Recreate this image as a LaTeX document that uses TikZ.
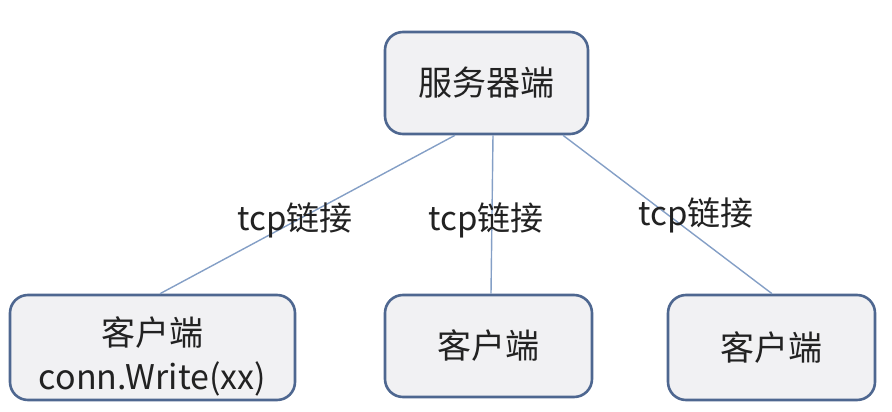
\documentclass[tikz,border=0pt]{standalone}
\usepackage{fontspec}
\setmainfont{Noto Sans CJK SC}
\usepackage{xcolor}
\usetikzlibrary{calc, positioning}

\definecolor{boxline}{HTML}{4E6790}
\definecolor{boxfill}{HTML}{F1F1F3}
\definecolor{linkblue}{HTML}{849FC6}
\definecolor{textdark}{HTML}{222222}

\tikzset{
    boxnode/.style={draw=boxline, line width=2.6pt, fill=boxfill,
        rounded corners=18pt, inner sep=0pt, align=center,
        font=\fontsize{34}{44}\selectfont, text=textdark},
    link/.style={draw=linkblue, line width=1.4pt},
    linklabel/.style={font=\fontsize{33}{40}\selectfont, text=textdark, inner sep=0pt}
}

\begin{document}
\begin{tikzpicture}[x=1pt, y=-1pt]

    % canvas
    \useasboundingbox (0,0) rectangle (892,412);

    % -----------------------------------------------------------------
    % 1. server and clients
    % -----------------------------------------------------------------
    \node[boxnode, minimum width=203pt, minimum height=102pt] (server) at (486.5,83) {服务器端};

    \node[boxnode, minimum width=285pt, minimum height=105pt] (client1) at (152.5,347.5) {};
    \node[font=\fontsize{34}{44}\selectfont, text=textdark, align=center] (client1txt) at (152.5,356) {客户端\\conn.Write(xx)};
    \node[boxnode, minimum width=207pt, minimum height=102pt] (client2) at (488.5,346) {客户端};
    \node[boxnode, minimum width=207pt, minimum height=105pt] (client3) at (771.5,347.5) {客户端};

    % -----------------------------------------------------------------
    % 2. tcp links
    % -----------------------------------------------------------------
    \draw[link] ([xshift=-31.5pt]server.south) -- ([xshift=7.5pt]client1.north);
    \draw[link] ([xshift=6.5pt]server.south) -- ([xshift=2.5pt]client2.north);
    \draw[link] ([xshift=76.5pt]server.south) -- ([xshift=0.5pt]client3.north);

    % labels
    \node[linklabel] (lbl1) at (295,220) {tcp链接};
    \node[linklabel] (lbl2) at (486,220) {tcp链接};
    \node[linklabel] (lbl3) at (696,215) {tcp链接};

\end{tikzpicture}
\end{document}
